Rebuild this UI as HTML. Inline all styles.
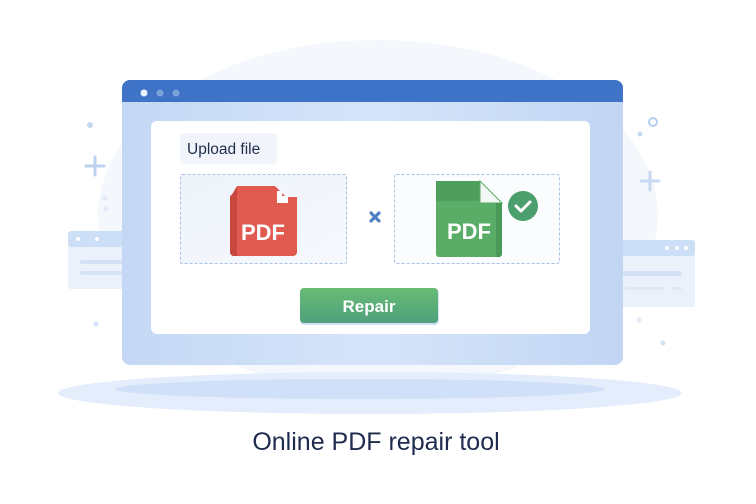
<!DOCTYPE html>
<html><head><meta charset="utf-8"><style>
html,body{margin:0;padding:0;background:#fff;}
svg{display:block}
text{font-family:"Liberation Sans",sans-serif}
</style></head><body>
<svg width="756" height="504" viewBox="0 0 756 504" xmlns="http://www.w3.org/2000/svg">
<defs>
<linearGradient id="btn" x1="0" y1="0" x2="0" y2="1"><stop offset="0" stop-color="#68bc73"/><stop offset="1" stop-color="#4fa07e"/></linearGradient>
<linearGradient id="win" x1="0" y1="0" x2="1" y2="0"><stop offset="0" stop-color="#c4d8f5"/><stop offset="0.5" stop-color="#d6e4f9"/><stop offset="1" stop-color="#c2d6f4"/></linearGradient>
<linearGradient id="box" x1="0" y1="0" x2="1" y2="1"><stop offset="0" stop-color="#eef3fb"/><stop offset="1" stop-color="#f6f9fd"/></linearGradient>
</defs>
<!-- background blob -->
<ellipse cx="378" cy="215" rx="280" ry="175" fill="#f4f7fc"/>
<!-- ground shadow -->
<ellipse cx="370" cy="393" rx="312" ry="21" fill="#e4edfb"/>
<ellipse cx="360" cy="389" rx="245" ry="10" fill="#cfe0f8"/>
<!-- side windows -->
<rect x="68" y="231" width="70" height="58" rx="3" fill="#eaf1fb"/>
<rect x="68" y="231" width="70" height="16" rx="3" fill="#cddff6"/>
<circle cx="78" cy="239" r="2" fill="#fff"/><circle cx="97" cy="239" r="2" fill="#fff"/>
<rect x="80" y="260" width="50" height="4" rx="2" fill="#d3e2f6"/>
<rect x="80" y="271" width="50" height="4" rx="2" fill="#d3e2f6"/>
<rect x="610" y="240" width="85" height="67" rx="3" fill="#eaf1fb"/>
<rect x="610" y="240" width="85" height="16" rx="3" fill="#cddff6"/>
<circle cx="667" cy="248" r="2" fill="#fff"/><circle cx="677" cy="248" r="2" fill="#fff"/><circle cx="686" cy="248" r="2" fill="#fff"/>
<rect x="620" y="271" width="62" height="5" rx="2" fill="#d3e2f6"/>
<rect x="625" y="287" width="40" height="3" rx="1.5" fill="#dde8f7"/>
<rect x="672" y="287" width="10" height="3" rx="1.5" fill="#dde8f7"/>
<!-- decorations -->
<circle cx="90" cy="125" r="3" fill="#c5d7f1"/>
<path d="M95 157v18M86 166h18" stroke="#bcd2f0" stroke-width="3" stroke-linecap="round"/>
<circle cx="105" cy="198" r="2.5" fill="#e2ebf8"/><circle cx="106" cy="209" r="2.5" fill="#e2ebf8"/>
<circle cx="96" cy="324" r="2.5" fill="#d3e1f5"/>
<circle cx="653" cy="122" r="4" fill="none" stroke="#b5cdef" stroke-width="2"/>
<circle cx="640" cy="134" r="2.5" fill="#c5d7f1"/>
<path d="M650 172v18M641 181h18" stroke="#c8daf3" stroke-width="3" stroke-linecap="round"/>
<circle cx="639" cy="320" r="2.5" fill="#e2ebf8"/>
<circle cx="663" cy="343" r="2.5" fill="#d3e1f5"/>
<!-- main window -->
<rect x="122" y="80" width="501" height="285" rx="8" fill="url(#win)"/>
<path d="M130 80h485a8 8 0 0 1 8 8v14h-501v-14a8 8 0 0 1 8-8z" fill="#3e73c8"/>
<circle cx="144" cy="93" r="3.5" fill="#e8f0fb"/><circle cx="160" cy="93" r="3.5" fill="#7ea3dc"/><circle cx="176" cy="93" r="3.5" fill="#7ea3dc"/>
<rect x="151" y="121" width="439" height="213" rx="6" fill="#fff"/>
<!-- upload label -->
<rect x="180" y="133" width="97" height="31" rx="4" fill="#f1f5fb"/>
<text x="187" y="154" font-size="15.5" fill="#1f2d4d">Upload file</text>
<!-- boxes -->
<rect x="180.5" y="174.5" width="166" height="89" rx="2" fill="url(#box)" stroke="#a9c1e2" stroke-dasharray="3 2"/>
<rect x="394.5" y="174.5" width="165" height="89" rx="2" fill="#fbfcfe" stroke="#a9c1e2" stroke-dasharray="3 2"/>
<!-- red pdf -->
<path d="M237 186h38l11 11h11v55a4 4 0 0 1-4 4h-59a4 4 0 0 1-4-4v-56l7-6z" fill="#e05a4f"/>
<path d="M230 198l7-12v70h-3a4 4 0 0 1-4-4z" fill="#c9463e"/>
<path d="M277 191h5v5h6v7h-11z" fill="#fff"/>
<text x="263" y="240" font-size="22" font-weight="bold" fill="#fff" text-anchor="middle">PDF</text>
<!-- x -->
<path d="M371 213l8 8M379 213l-8 8" stroke="#4f7fc6" stroke-width="3.2" stroke-linecap="round"/>
<!-- green pdf -->
<path d="M439 181h41l22 22v51a3 3 0 0 1-3 3h-60a3 3 0 0 1-3-3v-70a3 3 0 0 1 3-3z" fill="#59ad67"/>
<rect x="436" y="181" width="44" height="20" fill="#4f9e5c"/>
<path d="M480 181l22 22h-22z" fill="#f4f8f4" stroke="#59ad67" stroke-width="1"/>
<path d="M496 203h6v51a3 3 0 0 1-3 3h-3z" fill="#4a9a57"/>
<text x="469" y="239" font-size="22" font-weight="bold" fill="#fff" text-anchor="middle">PDF</text>
<circle cx="523" cy="206" r="15" fill="#4a9f6c"/>
<path d="M516 206l5 5 9-9" stroke="#fff" stroke-width="3" fill="none" stroke-linecap="round" stroke-linejoin="round"/>
<!-- button -->
<rect x="300" y="289" width="139" height="36" rx="4" fill="#cfe1f2"/>
<rect x="300" y="288" width="138" height="35" rx="4" fill="url(#btn)"/>
<text x="369" y="312" font-size="17" font-weight="bold" fill="#fff" text-anchor="middle">Repair</text>
<!-- title -->
<text x="376" y="450" font-size="25" fill="#1e2b4e" text-anchor="middle">Online PDF repair tool</text>
</svg>
</body></html>
